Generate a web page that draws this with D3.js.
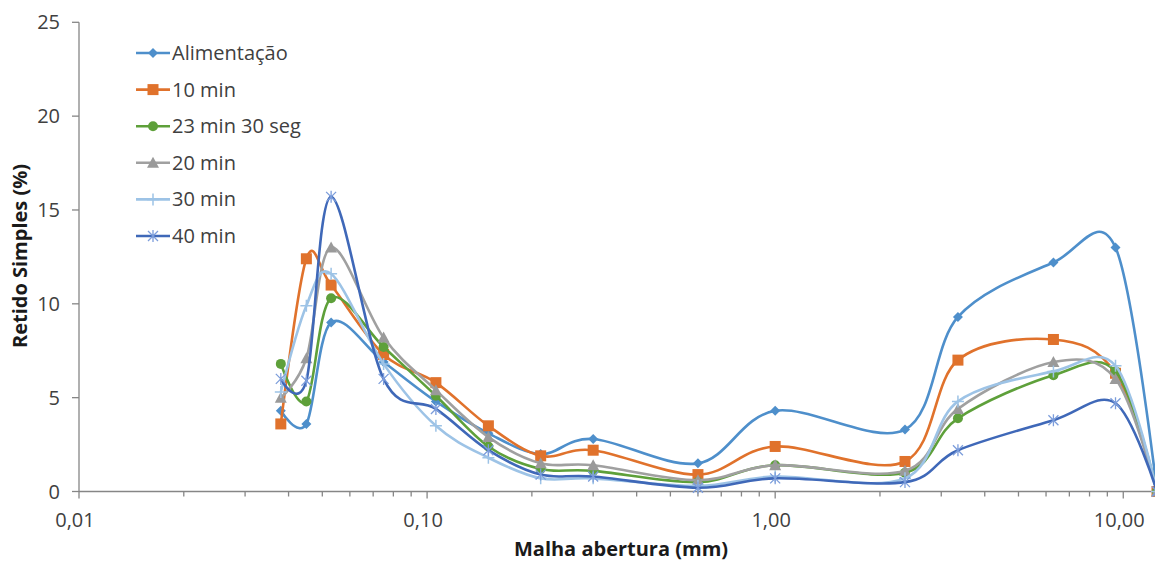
<!DOCTYPE html>
<html>
<head>
<meta charset="utf-8">
<script src="https://cdn.jsdelivr.net/npm/d3@7"></script>
<style>
  body { margin: 0; background: #fff; }
  svg { display: block; font-family: "Open Sans", sans-serif; }
</style>
</head>
<body>
<svg id="grafico"></svg>
<script>
"use strict"
// dados
const aberturas = [0.038, 0.045, 0.053, 0.075, 0.106, 0.150, 0.212, 0.300, 0.600, 1.00, 2.36, 3.35, 6.30, 9.50, 12.5];
const alimentacao = [4.3, 3.6, 9.0, 6.9, 4.8, 3.1, 2.0, 2.8, 1.5, 4.3, 3.3, 9.3, 12.2, 13.0, 0];
const min10 = [3.6, 12.4, 11.0, 7.3, 5.8, 3.5, 1.9, 2.2, 0.9, 2.4, 1.6, 7.0, 8.1, 6.3, 0];
const min23s30 = [6.8, 4.8, 10.3, 7.7, 5.1, 2.4, 1.2, 1.1, 0.5, 1.4, 1.0, 3.9, 6.2, 6.4, 0];
const min20 = [5.0, 7.1, 13.0, 8.2, 5.4, 2.9, 1.5, 1.4, 0.6, 1.4, 1.1, 4.4, 6.9, 6.0, 0];
const min30 = [5.3, 9.9, 11.6, 6.8, 3.5, 1.8, 0.7, 0.7, 0.3, 0.8, 0.7, 4.8, 6.4, 6.7, 0];
const min40 = [6.0, 5.9, 15.7, 6.0, 4.4, 2.2, 0.9, 0.8, 0.2, 0.7, 0.5, 2.2, 3.8, 4.7, 0];

const nomes = ["Alimentação", "10 min", "23 min 30 seg", "20 min", "30 min", "40 min"];
const ticksY = [0, 5, 10, 15, 20, 25];
const ticksX = [0.01, 0.1, 1, 10];
const rotulosX = ["0,01", "0,10", "1,00", "10,00"];

const series = [
    { nome: nomes[0], valores: alimentacao, cor: "#4E8FCB", marca: "diamante", corMarca: "#4E8FCB" },
    { nome: nomes[1], valores: min10, cor: "#E0722C", marca: "quadrado", corMarca: "#E0722C" },
    { nome: nomes[2], valores: min23s30, cor: "#5EA03A", marca: "circulo", corMarca: "#5EA03A" },
    { nome: nomes[3], valores: min20, cor: "#A0A0A0", marca: "triangulo", corMarca: "#9A9A9A" },
    { nome: nomes[4], valores: min30, cor: "#9DC3E6", marca: "mais", corMarca: "#9DC3E6" },
    { nome: nomes[5], valores: min40, cor: "#3F68B8", marca: "asterisco", corMarca: "#7C9DDB" }
];

const grafico = { w: 1155, h: 561 };
const svg = d3.select("#grafico")
    .attr("width", grafico.w)
    .attr("height", grafico.h);

const scalaX = d3.scaleLog().domain([0.01, 12.5]).range([79, 1157]);
const scalaY = d3.scaleLinear().domain([0, 25]).range([491.5, 22.3]);
const corEixo = "#868686";
const fonte = "20px";

// eixo Y
svg.append("line")
    .attr("x1", 79).attr("x2", 79)
    .attr("y1", scalaY(25)).attr("y2", scalaY(0))
    .attr("stroke", corEixo).attr("stroke-width", 1.3);

ticksY.forEach(function (t) {
    svg.append("line")
        .attr("x1", 72).attr("x2", 79)
        .attr("y1", scalaY(t)).attr("y2", scalaY(t))
        .attr("stroke", corEixo).attr("stroke-width", 1.3);
    svg.append("text")
        .attr("x", 60).attr("y", scalaY(t))
        .attr("dy", "0.35em")
        .attr("text-anchor", "end")
        .attr("font-size", fonte)
        .attr("fill", "#404040")
        .text(t);
});

// eixo X (log)
svg.append("line")
    .attr("x1", 79).attr("x2", 1157)
    .attr("y1", scalaY(0)).attr("y2", scalaY(0))
    .attr("stroke", corEixo).attr("stroke-width", 1.3);

const menores = [];
[0.01, 0.1, 1, 10].forEach(function (dec) {
    for (let k = 2; k <= 9; k++) {
        if (dec * k <= 12.5) menores.push(dec * k);
    }
});
menores.forEach(function (t) {
    svg.append("line")
        .attr("x1", scalaX(t)).attr("x2", scalaX(t))
        .attr("y1", scalaY(0)).attr("y2", scalaY(0) + 5)
        .attr("stroke", corEixo).attr("stroke-width", 1.3);
});
ticksX.forEach(function (t, i) {
    svg.append("line")
        .attr("x1", scalaX(t)).attr("x2", scalaX(t))
        .attr("y1", scalaY(0)).attr("y2", scalaY(0) + 7)
        .attr("stroke", corEixo).attr("stroke-width", 1.3);
    svg.append("text")
        .attr("x", scalaX(t) - 4).attr("y", 520)
        .attr("dy", "0.35em")
        .attr("text-anchor", "middle")
        .attr("font-size", fonte)
        .attr("fill", "#404040")
        .text(rotulosX[i]);
});

// titulos dos eixos
svg.append("text")
    .attr("x", 621).attr("y", 549)
    .attr("dy", "0.35em")
    .attr("text-anchor", "middle")
    .attr("font-size", fonte)
    .attr("font-weight", "bold")
    .attr("fill", "#1a1a1a")
    .text("Malha abertura (mm)");

svg.append("text")
    .attr("transform", "translate(20,256) rotate(-90)")
    .attr("dy", "0.35em")
    .attr("text-anchor", "middle")
    .attr("font-size", fonte)
    .attr("font-weight", "bold")
    .attr("fill", "#1a1a1a")
    .text("Retido Simples (%)");

// marcadores
function desenhaMarca(g, tipo, x, y, cor) {
    if (tipo === "diamante") {
        g.append("path")
            .attr("d", `M${x},${y - 5}L${x + 5},${y}L${x},${y + 5}L${x - 5},${y}Z`)
            .attr("fill", cor);
    } else if (tipo === "quadrado") {
        g.append("rect")
            .attr("x", x - 5.5).attr("y", y - 5.5)
            .attr("width", 11).attr("height", 11)
            .attr("fill", cor);
    } else if (tipo === "circulo") {
        g.append("circle")
            .attr("cx", x).attr("cy", y).attr("r", 5)
            .attr("fill", cor);
    } else if (tipo === "triangulo") {
        g.append("path")
            .attr("d", `M${x},${y - 6}L${x + 6},${y + 5}L${x - 6},${y + 5}Z`)
            .attr("fill", cor);
    } else if (tipo === "mais") {
        g.append("path")
            .attr("d", `M${x - 6},${y}H${x + 6}M${x},${y - 6}V${y + 6}`)
            .attr("stroke", cor).attr("stroke-width", 1.5).attr("fill", "none");
    } else if (tipo === "asterisco") {
        g.append("path")
            .attr("d", `M${x - 5},${y - 5}L${x + 5},${y + 5}M${x - 5},${y + 5}L${x + 5},${y - 5}M${x},${y - 6}V${y + 6}`)
            .attr("stroke", cor).attr("stroke-width", 1.3).attr("fill", "none");
    }
}

const linha = d3.line()
    .x(function (d) { return scalaX(d.x); })
    .y(function (d) { return scalaY(d.y); })
    .curve(d3.curveCardinal.tension(0));

series.forEach(function (s) {
    const pontos = aberturas.map(function (a, i) { return { x: a, y: s.valores[i] }; });
    const g = svg.append("g");
    g.append("path")
        .datum(pontos)
        .attr("d", linha)
        .attr("fill", "none")
        .attr("stroke", s.cor)
        .attr("stroke-width", 2.6)
        .attr("stroke-linejoin", "round");
    pontos.forEach(function (p) {
        desenhaMarca(g, s.marca, scalaX(p.x), scalaY(p.y), s.corMarca);
    });
});

// legenda
series.forEach(function (s, i) {
    const y = 53 + i * 36.6;
    const g = svg.append("g");
    g.append("line")
        .attr("x1", 136).attr("x2", 170)
        .attr("y1", y).attr("y2", y)
        .attr("stroke", s.cor).attr("stroke-width", 2.6);
    desenhaMarca(g, s.marca, 153, y, s.corMarca);
    g.append("text")
        .attr("x", 172).attr("y", y)
        .attr("dy", "0.35em")
        .attr("font-size", fonte)
        .attr("fill", "#404040")
        .text(s.nome);
});
</script>
</body>
</html>
